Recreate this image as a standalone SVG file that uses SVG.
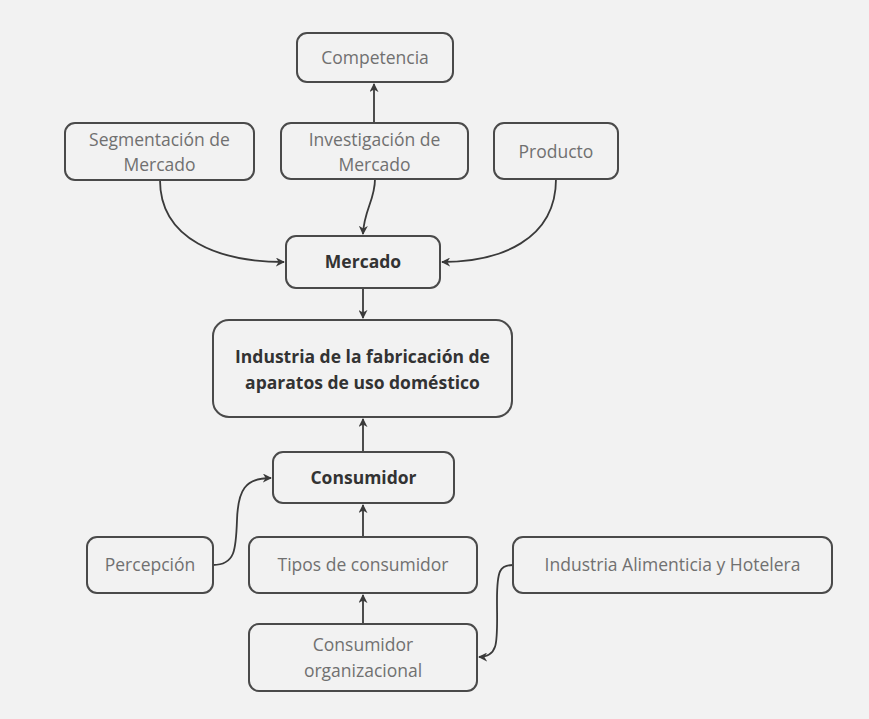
<svg xmlns="http://www.w3.org/2000/svg" width="869" height="719" viewBox="0 0 869 719">
<defs>
<style>
.box{fill:#f2f2f2;stroke:#4a4a4a;stroke-width:2}
.t{font-family:"Open Sans","Noto Sans",sans-serif;font-size:17.5px;fill:#707070;text-anchor:middle}
.b{font-family:"Open Sans","Noto Sans",sans-serif;font-size:17.5px;font-weight:bold;fill:#333;text-anchor:middle}
.c{fill:none;stroke:#3a3a3a;stroke-width:1.8}
</style>
<marker id="ah" viewBox="0 0 10 10" refX="9" refY="5" markerWidth="9" markerHeight="9" orient="auto" markerUnits="userSpaceOnUse">
<path d="M0,0 L10,5 L0,10 L3,5 Z" fill="#3a3a3a"/>
</marker>
</defs>
<rect width="869" height="719" fill="#f2f2f2"/>
<g id="connectors">
<path class="c" d="M374,123 L374,84" marker-end="url(#ah)"/>
<path class="c" d="M375,179 C375,200 364,210 363,234" marker-end="url(#ah)"/>
<path class="c" d="M160,180 C160,240 220,262 284,262" marker-end="url(#ah)"/>
<path class="c" d="M556,179 C556,240 500,262 442,262" marker-end="url(#ah)"/>
<path class="c" d="M363,288 L363,318" marker-end="url(#ah)"/>
<path class="c" d="M363,452 L363,419" marker-end="url(#ah)"/>
<path class="c" d="M363,537 L363,505" marker-end="url(#ah)"/>
<path class="c" d="M363,624 L363,595" marker-end="url(#ah)"/>
<path class="c" d="M213,565 C235,565 236,550 237,520 C238,490 245,478 271,478" marker-end="url(#ah)"/>
<path class="c" d="M513,565 C500,565 497,570 497,600 C497,640 500,657 479,657" marker-end="url(#ah)"/>
</g>
<g id="competencia"><rect class="box" x="297" y="33" width="156" height="49" rx="10"/><text class="t" x="375" y="64">Competencia</text></g>
<g id="investigacion"><rect class="box" x="281" y="123" width="187" height="56" rx="10"/><text class="t" x="374.5" y="146">Investigación de</text><text class="t" x="374.5" y="171">Mercado</text></g>
<g id="segmentacion"><rect class="box" x="65" y="123" width="189" height="57" rx="10"/><text class="t" x="159.5" y="146">Segmentación de</text><text class="t" x="159.5" y="171">Mercado</text></g>
<g id="producto"><rect class="box" x="494" y="123" width="124" height="56" rx="10"/><text class="t" x="556" y="158">Producto</text></g>
<g id="mercado"><rect class="box" x="286" y="236" width="154" height="52" rx="10"/><text class="b" x="363" y="268">Mercado</text></g>
<g id="industria"><rect class="box" x="213" y="320" width="299" height="97" rx="16"/><text class="b" x="362.5" y="363">Industria de la fabricación de</text><text class="b" x="362.5" y="389">aparatos de uso doméstico</text></g>
<g id="consumidor"><rect class="box" x="273" y="452" width="181" height="51" rx="10"/><text class="b" x="363.5" y="484">Consumidor</text></g>
<g id="percepcion"><rect class="box" x="87" y="537" width="126" height="56" rx="10"/><text class="t" x="150" y="571">Percepción</text></g>
<g id="tipos"><rect class="box" x="249" y="537" width="228" height="56" rx="10"/><text class="t" x="363" y="571">Tipos de consumidor</text></g>
<g id="alimenticia"><rect class="box" x="513" y="537" width="319" height="56" rx="10"/><text class="t" x="672.5" y="571">Industria Alimenticia y Hotelera</text></g>
<g id="organizacional"><rect class="box" x="249" y="624" width="228" height="67" rx="10"/><text class="t" x="363" y="651">Consumidor</text><text class="t" x="363" y="677">organizacional</text></g>
</svg>
